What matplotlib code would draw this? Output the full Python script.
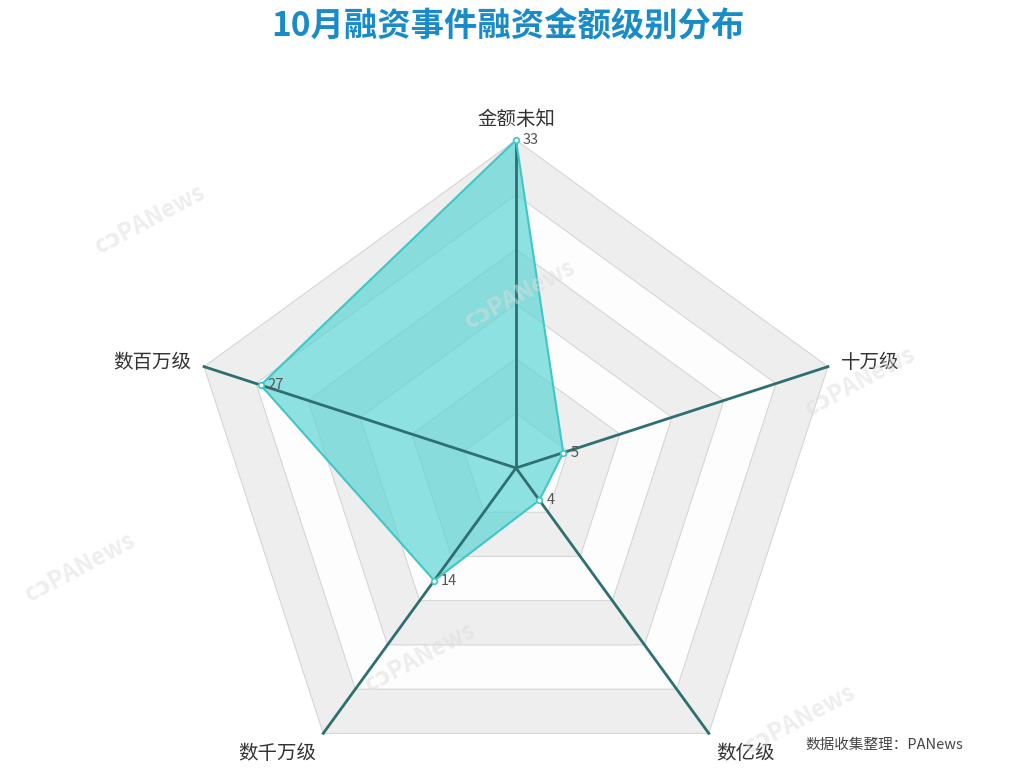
import numpy as np
import matplotlib
matplotlib.use('Agg')
import matplotlib.pyplot as plt
from matplotlib.patches import Polygon

plt.rcParams['font.family'] = ['Noto Sans CJK SC', 'DejaVu Sans']

# data
categories = ['金额未知', '十万级', '数亿级', '数千万级', '数百万级']
values = [33, 5, 4, 14, 27]
max_value = 33
n_rings = 6
title = '10月融资事件融资金额级别分布'
source = '数据收集整理：PANews'

W, H = 1016, 780
cx, cy = 516, 468          # centre in pixels from top-left
scale = 328 / max_value     # pixels per unit

fig = plt.figure(figsize=(W / 100, H / 100), dpi=100)
ax = fig.add_axes([0, 0, 1, 1])
ax.set_xlim(-cx / scale, (W - cx) / scale)
ax.set_ylim(-(H - cy) / scale, cy / scale)
ax.axis('off')

angles = np.deg2rad(90 - 72 * np.arange(len(categories)))
ux, uy = np.cos(angles), np.sin(angles)

# split areas (outermost first)
for k in range(n_rings, 0, -1):
    r = max_value * k / n_rings
    col = '#eeeeee' if k % 2 == 0 else '#fdfdfd'
    ax.add_patch(Polygon(np.c_[ux * r, uy * r], closed=True, facecolor=col,
                         edgecolor='#d6d6d6', lw=0.8, zorder=1))

# data polygon
px, py = ux * np.array(values), uy * np.array(values)
ax.add_patch(Polygon(np.c_[px, py], closed=True, facecolor='#5ad4d4', alpha=0.68,
                     edgecolor='none', zorder=2))
ax.plot(np.r_[px, px[0]], np.r_[py, py[0]], color='#3fc6c6', lw=1.5, zorder=4)

# axis lines
for x, y in zip(ux, uy):
    ax.plot([0, x * max_value], [0, y * max_value], color='#2e6f72', lw=2, zorder=3)

ax.plot(px, py, 'o', ms=4, mfc='white', mec='#3fc6c6', mew=1.2, zorder=5)

# value labels
for x, y, v in zip(px, py, values):
    ax.text(x + 0.7, y, str(v), fontsize=10.5, color='#555555', ha='left',
            va='center', zorder=6)

# category labels
gaps = [1.0, 1.4, 1.2, 1.2, 1.4]
aligns = [('center', 'bottom'), ('left', 'center'), ('left', 'top'),
          ('right', 'top'), ('right', 'center')]
for x, y, name, g, (ha, va) in zip(ux, uy, categories, gaps, aligns):
    ax.text(x * (max_value + g), y * (max_value + g), name, fontsize=14,
            color='#333333', ha=ha, va=va, zorder=6)

# watermarks
marks = [(150, 220), (520, 295), (860, 382), (80, 568), (420, 658), (800, 720)]
for mx, my in marks:
    ax.text((mx - cx) / scale, (cy - my) / scale, 'cɔPANews', fontsize=17,
            fontweight='bold', color='#dddddd', alpha=0.5, rotation=28,
            ha='center', va='center', zorder=7)

fig.text(0.5, 1 - 27 / H, title, fontsize=24, fontweight='bold', color='#1a8bc9',
         ha='center', va='center')
fig.text(963 / W, 1 - 745 / H, source, fontsize=10.5, color='#444444',
         ha='right', va='center')

fig.savefig('out.png', dpi=100)
